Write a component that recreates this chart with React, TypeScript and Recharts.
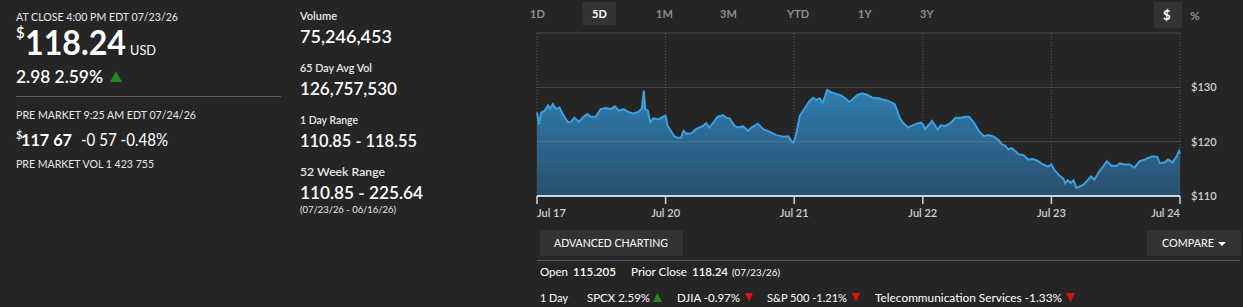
import React from "react";
import {
  AreaChart,
  Area,
  XAxis,
  YAxis,
  CartesianGrid,
  ReferenceLine,
} from "recharts";

// minutes of trading time since Jul 17 09:30 (390 minutes per session)
const minutes = [
  0, 6, 13, 23, 33, 40, 48, 58, 68, 78, 93, 103, 113, 128, 138, 153, 163, 178, 193, 208, 223, 236, 248, 263, 278, 293, 308, 318, 324, 328, 336, 343, 353, 368, 383, 390,
  396, 406, 416, 427, 437, 444, 452, 467, 482, 503, 513, 523, 538, 548, 564, 574, 584, 599, 609, 625, 640, 650, 670, 686, 706, 726, 747, 762, 772, 777, 780,
  787, 797, 807, 817, 827, 837, 847, 857, 867, 880, 892, 907, 922, 932, 947, 957, 972, 987, 1002, 1017, 1037, 1052, 1065, 1085, 1100, 1110, 1125, 1140, 1155, 1165, 1170,
  1177, 1190, 1198, 1205, 1215, 1225, 1240, 1255, 1270, 1285, 1298, 1310, 1325, 1340, 1355, 1370, 1385, 1400, 1410, 1420, 1428, 1440, 1450, 1460, 1475, 1490, 1505, 1520, 1535, 1550, 1560,
  1568, 1583, 1596, 1602, 1609, 1619, 1627, 1636, 1644, 1657, 1670, 1680, 1690, 1706, 1718, 1728, 1741, 1756, 1767, 1782, 1797, 1812, 1828, 1843, 1853, 1868, 1881, 1889, 1904, 1914, 1927, 1940, 1947, 1950,
];

const prices = [
  125.4, 123.2, 125.4, 125.7, 126.7, 126.1, 126.9, 126.0, 126.3, 125.1, 123.6, 123.6, 124.4, 123.6, 124.4, 125.1, 124.6, 124.6, 126.0, 126.2, 126.0, 126.5, 125.7, 126.0, 125.4, 125.2, 125.5, 126.1, 129.4, 126.0, 125.7, 123.6, 124.3, 124.1, 124.6, 124.8,
  122.9, 122.0, 121.0, 120.7, 120.7, 122.0, 121.5, 121.5, 122.3, 122.9, 123.4, 122.6, 123.8, 124.6, 124.9, 124.4, 124.3, 122.9, 122.6, 122.8, 122.0, 122.6, 123.3, 122.3, 121.8, 121.2, 120.9, 121.0, 120.1, 119.8, 120.1,
  121.7, 124.8, 125.7, 126.6, 127.5, 128.1, 127.7, 128.0, 127.2, 129.5, 129.1, 128.8, 128.5, 128.1, 127.3, 127.8, 128.6, 128.9, 128.6, 128.1, 128.0, 127.7, 127.5, 126.9, 124.4, 123.5, 122.6, 123.0, 123.4, 123.5, 123.2,
  122.3, 123.2, 123.8, 123.2, 122.2, 123.0, 122.9, 123.5, 124.4, 124.4, 124.6, 124.6, 123.5, 122.0, 121.0, 121.2, 120.9, 120.3, 119.5, 119.3, 118.6, 118.8, 118.3, 117.7, 117.5, 116.7, 116.8, 116.4, 115.8, 115.4, 115.8,
  114.9, 113.8, 113.2, 112.3, 112.9, 112.4, 112.9, 111.5, 111.7, 112.1, 112.9, 113.6, 113.0, 114.6, 115.5, 116.4, 115.6, 115.5, 116.0, 115.8, 115.8, 115.2, 116.4, 116.7, 117.0, 117.3, 117.2, 116.0, 116.2, 116.7, 116.2, 117.3, 118.3, 117.8,
];

const dayTicks = [0, 390, 780, 1170, 1560, 1950];
const dayLabels = ["Jul 17", "Jul 20", "Jul 21", "Jul 22", "Jul 23", "Jul 24"];
const priceTicks = [110, 120, 130];
const gridPrices = [120, 130, 140];

const rangeTabs = ["1D", "5D", "1M", "3M", "YTD", "1Y", "3Y"];
const rangeTabX = [530, 592, 656, 720, 787, 858, 920];

const statLabels = ["Volume", "65 Day Avg Vol", "1 Day Range", "52 Week Range"];
const statLabelW = [37, 72, 58, 85];
const statValues = ["75,246,453", "126,757,530", "110.85 - 118.55", "110.85 - 225.64"];
const statValueW = [92, 97, 117, 123];

const data = minutes.map((m, i) => ({ t: m, price: prices[i] }));

const BG = "#252525";
const FONT = "Lato, 'Open Sans', sans-serif";
const SQ = "spacingAndGlyphs";

const XTick = (props: any) => {
  const { x, y, payload, index } = props;
  const anchor = index === 0 ? "start" : index === dayTicks.length - 1 ? "end" : "middle";
  return (
    <g>
      <line x1={x} x2={x} y1={y} y2={y + 8} stroke="#c9d6e3" strokeWidth={1.5} />
      <text x={x} y={y + 21} textAnchor={anchor} fill="#d0d0d0" fontSize={11} fontWeight={600} fontFamily={FONT}>
        {dayLabels[dayTicks.indexOf(payload.value)]}
      </text>
    </g>
  );
};

export default function App() {
  return (
    <div style={{ position: "absolute", left: 0, top: 0, width: 1243, height: 307, background: BG, overflow: "hidden", fontFamily: FONT }}>
      <svg width={1243} height={307} style={{ position: "absolute", left: 0, top: 0 }} fontFamily={FONT}>
        {/* left panel */}
        <text x={16} y={21} fill="#e8e8e8" fontSize={11} textLength={162} lengthAdjust={SQ}>AT CLOSE 4:00 PM EDT 07/23/26</text>
        <text x={16} y={38} fill="#ffffff" fontSize={15} fontWeight={600}>$</text>
        <text x={25} y={55} fill="#ffffff" fontSize={35} fontWeight={700} textLength={101} lengthAdjust={SQ}>118.24</text>
        <text x={130} y={55} fill="#ffffff" fontSize={14} textLength={26} lengthAdjust={SQ}>USD</text>
        <text x={16} y={83} fill="#ffffff" fontSize={17} fontWeight={600} textLength={87} lengthAdjust={SQ}>2.98 2.59%</text>
        <polygon points="110,82 122,82 116,71" fill="#1f8b24" />
        <line x1={16} x2={281} y1={96.5} y2={96.5} stroke="#5c5c5c" strokeWidth={1} />
        <text x={16} y={119} fill="#e8e8e8" fontSize={11} textLength={180} lengthAdjust={SQ}>PRE MARKET 9:25 AM EDT 07/24/26</text>
        <text x={16} y={139} fill="#ffffff" fontSize={11} fontWeight={600}>$</text>
        <text x={21} y={146} fill="#ffffff" fontSize={17} fontWeight={700} textLength={51} lengthAdjust={SQ}>117 67</text>
        <text x={81} y={146} fill="#ffffff" fontSize={17} textLength={87} lengthAdjust={SQ}>-0 57 -0.48%</text>
        <text x={16} y={168} fill="#e8e8e8" fontSize={11} textLength={138} lengthAdjust={SQ}>PRE MARKET VOL 1 423 755</text>

        {/* middle panel */}
        {statLabels.map((s, i) => (
          <g key={s}>
            <text x={300} y={20 + i * 52} fill="#e8e8e8" fontSize={11} fontWeight={600} textLength={statLabelW[i]} lengthAdjust={SQ}>{s}</text>
            <text x={300} y={43 + i * 52} fill="#ffffff" fontSize={18} fontWeight={600} textLength={statValueW[i]} lengthAdjust={SQ}>{statValues[i]}</text>
          </g>
        ))}
        <text x={300} y={213} fill="#e8e8e8" fontSize={10} textLength={96} lengthAdjust={SQ}>(07/23/26 - 06/16/26)</text>

        {/* range tabs */}
        <rect x={582} y={2} width={34} height={23} fill="#333333" />
        {rangeTabs.map((r, i) => (
          <text key={r} x={rangeTabX[i]} y={18} fill={r === "5D" ? "#ffffff" : "#8c8c8c"} fontSize={11} fontWeight={700}>{r}</text>
        ))}
        <rect x={1154} y={2} width={28} height={26} fill="#333333" />
        <text x={1163} y={20} fill="#ffffff" fontSize={13} fontWeight={700}>$</text>
        <text x={1190} y={20} fill="#8c8c8c" fontSize={12} fontWeight={700}>%</text>

        {/* bottom */}
        <rect x={540} y={230} width={143} height={26} fill="#333333" />
        <text x={554} y={247} fill="#ffffff" fontSize={11} textLength={114} lengthAdjust={SQ}>ADVANCED CHARTING</text>
        <rect x={1147} y={230} width={94} height={26} fill="#333333" />
        <text x={1162} y={247} fill="#ffffff" fontSize={11} textLength={52} lengthAdjust={SQ}>COMPARE</text>
        <polygon points="1218,242 1226,242 1222,246" fill="#ffffff" />
        <line x1={537} x2={1240} y1={260.5} y2={260.5} stroke="#5c5c5c" />
        <text x={540} y={276} fontSize={12} fill="#ffffff" textLength={28} lengthAdjust={SQ}>Open</text>
        <text x={573} y={276} fontSize={12} fill="#ffffff" fontWeight={600} textLength={43} lengthAdjust={SQ}>115.205</text>
        <text x={631} y={276} fontSize={12} fill="#ffffff" textLength={56} lengthAdjust={SQ}>Prior Close</text>
        <text x={692} y={276} fontSize={12} fill="#ffffff" fontWeight={600} textLength={36} lengthAdjust={SQ}>118.24</text>
        <text x={732} y={276} fontSize={10} fill="#ffffff" textLength={48} lengthAdjust={SQ}>(07/23/26)</text>

        <text x={540} y={302} fontSize={12} fill="#ffffff" textLength={28} lengthAdjust={SQ}>1 Day</text>
        <text x={587} y={302} fontSize={12} fill="#ffffff" textLength={63} lengthAdjust={SQ}>SPCX 2.59%</text>
        <text x={677} y={302} fontSize={12} fill="#ffffff" textLength={63} lengthAdjust={SQ}>DJIA -0.97%</text>
        <text x={767} y={302} fontSize={12} fill="#ffffff" textLength={80} lengthAdjust={SQ}>S&amp;P 500 -1.21%</text>
        <text x={875} y={302} fontSize={12} fill="#ffffff" textLength={187} lengthAdjust={SQ}>Telecommunication Services -1.33%</text>
        <polygon points="653,302 662,302 657.5,293" fill="#1f8b24" />
        <polygon points="745,293 753,293 749,302" fill="#e01010" />
        <polygon points="852,293 860,293 856,302" fill="#e01010" />
        <polygon points="1066,293 1075,293 1070.5,302" fill="#e01010" />
      </svg>

      <div style={{ position: "absolute", left: 530, top: 28 }}>
        <AreaChart width={713} height={200} data={data} margin={{ top: 5, left: 7, right: 0, bottom: 0 }}>
          <defs>
            <linearGradient id="fillGrad" x1="0" y1="0" x2="0" y2="1">
              <stop offset="0%" stopColor="#2f7db0" />
              <stop offset="100%" stopColor="#294f6c" />
            </linearGradient>
          </defs>
          <CartesianGrid horizontal={false} vertical={true} stroke="#5a5a5a" strokeDasharray="1 2" />
          <XAxis
            dataKey="t"
            type="number"
            domain={[0, 1950]}
            ticks={dayTicks}
            interval={0}
            height={32}
            axisLine={{ stroke: "#c9d6e3", strokeWidth: 2 }}
            tickLine={false}
            tickSize={0}
            tickMargin={0}
            tick={<XTick />}
          />
          <YAxis
            orientation="right"
            domain={[110, 140]}
            ticks={priceTicks}
            width={63}
            axisLine={false}
            tickLine={false}
            tickMargin={5}
            tickFormatter={(v: number) => `$${v}`}
            tick={{ fill: "#d0d0d0", fontSize: 11, fontWeight: 600, fontFamily: FONT }}
          />
          <Area
            type="linear"
            dataKey="price"
            stroke="#3d9fe0"
            strokeWidth={2}
            fill="url(#fillGrad)"
            fillOpacity={1}
            baseValue={110}
            isAnimationActive={false}
            dot={false}
            activeDot={false}
          />
          {gridPrices.map((g) => (
            <ReferenceLine key={g} y={g} stroke="rgba(150,150,150,0.35)" strokeWidth={1} ifOverflow="extendDomain" />
          ))}
        </AreaChart>
      </div>
    </div>
  );
}
